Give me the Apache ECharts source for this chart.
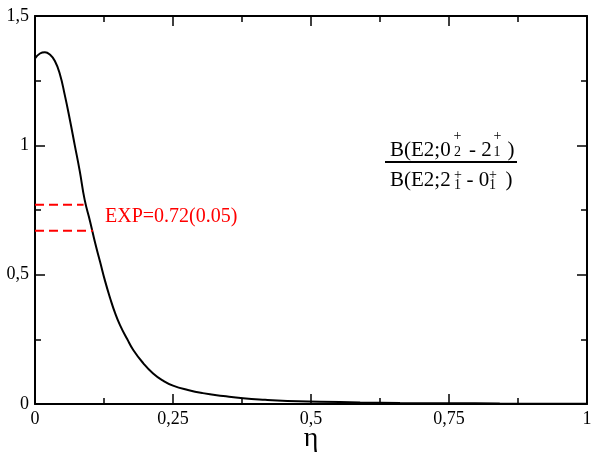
<!DOCTYPE html>
<html>
<head>
<meta charset="utf-8">
<script src="https://cdn.jsdelivr.net/npm/echarts@6/dist/echarts.min.js"></script>
<style>
html,body{margin:0;padding:0;background:#fff;overflow:hidden;}
#chart{width:592px;height:455px;}
</style>
</head>
<body>
<div id="chart"></div>
<script>
// ---- data ----
const eta = [0, 0.009, 0.018, 0.027, 0.036, 0.045, 0.054, 0.063, 0.072, 0.081, 0.09, 0.1, 0.109, 0.118, 0.127, 0.136, 0.145, 0.154, 0.167, 0.178, 0.196, 0.214, 0.232, 0.25, 0.277, 0.304, 0.341, 0.377, 0.417, 0.457, 0.516, 0.589, 0.661, 0.752, 0.842, 1];
const ratio = [1.336, 1.355, 1.360, 1.351, 1.326, 1.276, 1.194, 1.101, 1.001, 0.901, 0.789, 0.704, 0.622, 0.549, 0.475, 0.410, 0.352, 0.305, 0.251, 0.209, 0.158, 0.118, 0.090, 0.071, 0.054, 0.042, 0.031, 0.022, 0.016, 0.012, 0.009, 0.006, 0.004, 0.003, 0.002, 0.001];
const expValue = 0.72;
const expError = 0.05;
const expUpperEnd = 0.088;   // eta where the upper dashed line stops
const expLowerEnd = 0.105;   // eta where the lower dashed line stops
const xTickLabels = ['0', '0,25', '0,5', '0,75', '1'];
const yTickLabels = ['0', '0,5', '1', '1,5'];
const expLabel = 'EXP=0.72(0.05)';
const xName = 'η';

const serif = '"Liberation Serif", "Times New Roman", serif';
const curve = eta.map((e, i) => [e, ratio[i]]);
const upper = [[0, expValue + expError], [expUpperEnd, expValue + expError]];
const lower = [[0, expValue - expError], [expLowerEnd, expValue - expError]];

const tickStyle = {show: true, inside: true, length: 10, lineStyle: {color: '#000', width: 1.5}};
const minorStyle = {show: true, splitNumber: 2, length: 6, lineStyle: {color: '#000', width: 1.5}};
const lineStyle = {show: true, onZero: false, lineStyle: {color: '#000', width: 2}};

const big = '21px ' + serif;
const small = '14px ' + serif;
function txt(x, y, text, font, align) {
  return {type: 'text', x: x, y: y, style: {text: text, fill: '#000', font: font, align: align || 'left', verticalAlign: 'middle'}};
}

const chart = echarts.init(document.getElementById('chart'), null, {renderer: 'canvas'});
chart.setOption({
  animation: false,
  backgroundColor: '#fff',
  grid: {left: 35, right: 5, top: 16, bottom: 51, containLabel: false, outerBoundsMode: 'none'},
  xAxis: [{
    type: 'value', min: 0, max: 1, interval: 0.25, position: 'bottom',
    axisLine: lineStyle, axisTick: tickStyle, minorTick: minorStyle,
    splitLine: {show: false},
    axisLabel: {color: '#000', fontFamily: serif, fontSize: 18, margin: 6,
      formatter: (v) => xTickLabels[Math.round(v / 0.25)]},
    name: xName, nameLocation: 'middle', nameGap: 21, nameMoveOverlap: false,
    nameTextStyle: {color: '#000', fontFamily: serif, fontSize: 28}
  }, {
    type: 'value', min: 0, max: 1, interval: 0.25, position: 'top',
    axisLine: lineStyle, axisTick: tickStyle, minorTick: minorStyle,
    splitLine: {show: false}, axisLabel: {show: false}
  }],
  yAxis: [{
    type: 'value', min: 0, max: 1.5, interval: 0.5, position: 'left',
    axisLine: lineStyle, axisTick: tickStyle, minorTick: minorStyle,
    splitLine: {show: false},
    axisLabel: {color: '#000', fontFamily: serif, fontSize: 18, margin: 6,
      formatter: (v) => yTickLabels[Math.round(v / 0.5)]}
  }, {
    type: 'value', min: 0, max: 1.5, interval: 0.5, position: 'right',
    axisLine: lineStyle, axisTick: tickStyle, minorTick: minorStyle,
    splitLine: {show: false}, axisLabel: {show: false}
  }],
  series: [{
    type: 'line', data: curve, xAxisIndex: 0, yAxisIndex: 0,
    showSymbol: false, smooth: 0.5,
    lineStyle: {color: '#000', width: 2}, z: 3
  }, {
    type: 'line', data: upper, showSymbol: false,
    lineStyle: {color: '#ff0000', width: 2, type: [9, 5]}
  }, {
    type: 'line', data: lower, showSymbol: false,
    lineStyle: {color: '#ff0000', width: 2, type: [9, 5]}
  }],
  graphic: [
    {type: 'text', x: 105, y: 217, style: {text: expLabel, fill: '#ff0000', font: '20px ' + serif, align: 'left', verticalAlign: 'middle'}},
    // numerator
    txt(390, 150, 'B(E2;0', big),
    txt(457.5, 136.5, '+', small, 'center'),
    txt(457.5, 152.5, '2', small, 'center'),
    txt(469, 150, '- 2', big),
    txt(497.5, 136.5, '+', small, 'center'),
    txt(497, 152.5, '1', small, 'center'),
    txt(507.5, 150, ')', big),
    // fraction bar
    {type: 'line', shape: {x1: 385, y1: 162, x2: 517, y2: 162}, style: {stroke: '#000', lineWidth: 2}},
    // denominator
    txt(390, 180.5, 'B(E2;2', big),
    txt(458, 175.5, '+', small, 'center'),
    txt(457.5, 185, '1', small, 'center'),
    txt(466.5, 180.5, '- 0', big),
    txt(493, 175.5, '+', small, 'center'),
    txt(492.5, 185, '1', small, 'center'),
    txt(505.5, 180.5, ')', big)
  ]
});
</script>
</body>
</html>
